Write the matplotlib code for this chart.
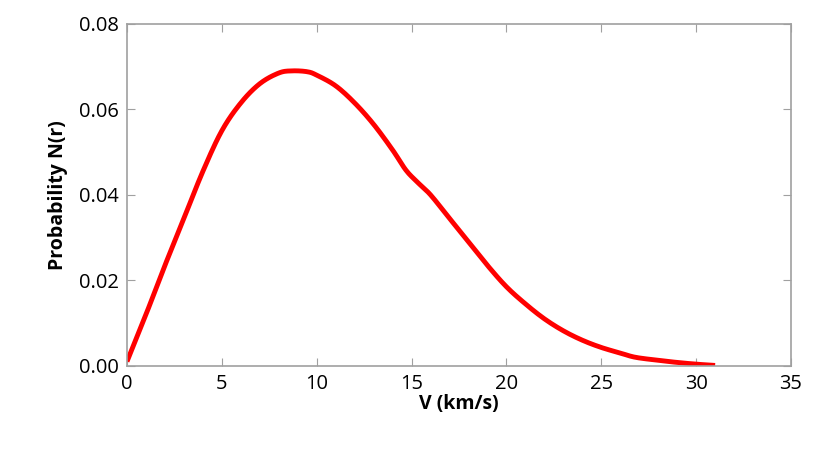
import matplotlib
matplotlib.use("Agg")
import matplotlib.pyplot as plt
import numpy as np

v = [0, 0.5, 1, 2, 3, 4, 5, 6, 7, 8, 8.7, 9.5, 10, 11, 12, 13, 14, 14.7, 15.3, 16, 17, 18, 19, 20, 21, 22, 23, 24, 25, 26, 26.8, 28, 29, 30, 31]
p = [0.001, 0.0065, 0.012, 0.0235, 0.0345, 0.0455, 0.0550, 0.0615, 0.0660, 0.0685, 0.0690, 0.0688, 0.0680, 0.0655, 0.0615, 0.0565, 0.0505, 0.0458, 0.0430, 0.0400, 0.0345, 0.0290, 0.0235, 0.0185, 0.0145, 0.0110, 0.0082, 0.0060, 0.0043, 0.0030, 0.0020, 0.0013, 0.0008, 0.0004, 0.0001]

def catmull(x, y, n=12):
    x = np.asarray(x, float); y = np.asarray(y, float)
    P = np.column_stack([x, y])
    P = np.vstack([P[0], P, P[-1]])
    out = []
    for i in range(1, len(P) - 2):
        p0, p1, p2, p3 = P[i-1], P[i], P[i+1], P[i+2]
        t = np.linspace(0, 1, n, endpoint=False)[:, None]
        out.append(0.5 * ((2*p1) + (-p0 + p2)*t + (2*p0 - 5*p1 + 4*p2 - p3)*t**2 + (-p0 + 3*p1 - 3*p2 + p3)*t**3))
    out.append(P[-2][None, :])
    o = np.vstack(out)
    return o[:, 0], o[:, 1]

sx, sy = catmull(v, p)

plt.rcParams["font.family"] = "Open Sans"
fig = plt.figure(figsize=(8.3, 4.5), dpi=100)
ax = fig.add_axes([0.153, 0.187, 0.8, 0.76])
ax.plot(sx, sy, color="#ff0000", lw=3.5, solid_capstyle="butt")
ax.set_xlim(0, 35)
ax.set_ylim(0, 0.08)
ax.set_xticks(range(0, 36, 5))
ax.set_yticks([0, 0.02, 0.04, 0.06, 0.08])
ax.set_yticklabels(["0.00", "0.02", "0.04", "0.06", "0.08"])
for s in ax.spines.values():
    s.set_color("#a0a0a0")
    s.set_linewidth(1.2)
ax.tick_params(direction="in", top=True, right=True, color="#a0a0a0", length=6, labelsize=14.5, pad=6)
ax.set_xlabel("V (km/s)", fontsize=14, fontweight="bold", labelpad=0)
ax.set_ylabel("Probability N(r)", fontsize=14, fontweight="bold", labelpad=8)
fig.savefig("out.png")
